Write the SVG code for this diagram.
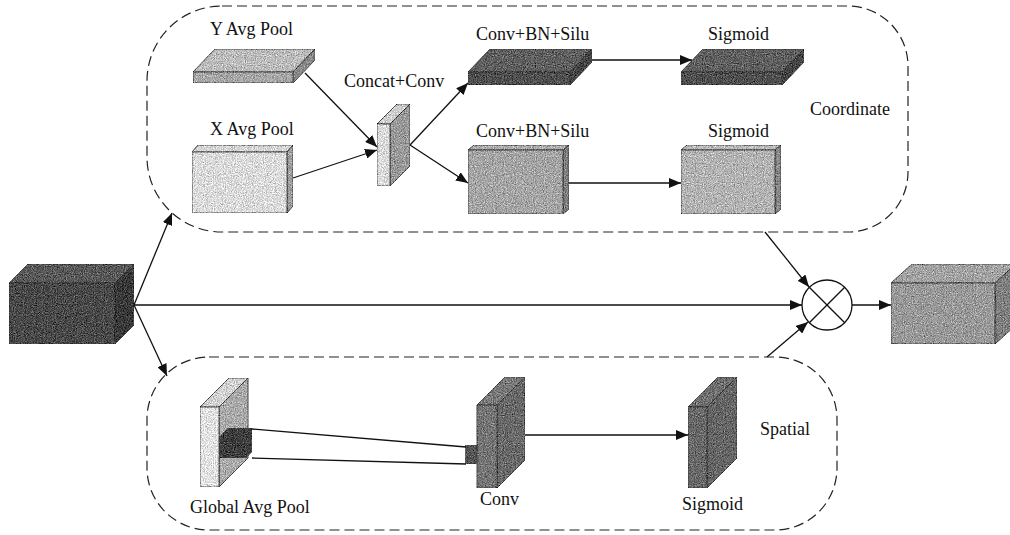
<svg xmlns="http://www.w3.org/2000/svg" width="1010" height="535" viewBox="0 0 1010 535">
<defs>
<style>
text{font-family:"Liberation Serif","Times New Roman",serif;font-size:18px;fill:#111}
.dash{fill:none;stroke:#222;stroke-width:1.2;stroke-dasharray:10 5}
.f{stroke:#333;stroke-width:0.8;stroke-linejoin:round}
.ln{fill:none;stroke:#111;stroke-width:1.3}
.arr{fill:none;stroke:#111;stroke-width:1.3;marker-end:url(#ah)}
.node{filter:url(#grain)}
</style>
<marker id="ah" markerUnits="userSpaceOnUse" markerWidth="12" markerHeight="10" refX="12" refY="5" orient="auto">
<path d="M0,0 L12,5 L0,10 Z" fill="#111"/>
</marker>
<filter id="grain" x="0" y="0" width="100%" height="100%" color-interpolation-filters="sRGB">
<feTurbulence type="fractalNoise" baseFrequency="0.9" numOctaves="2" seed="3" result="n"/>
<feColorMatrix in="n" type="matrix" values="0.33 0.33 0.33 0 0  0.33 0.33 0.33 0 0  0.33 0.33 0.33 0 0  0 0 0 0 1" result="g"/>
<feComposite in="SourceGraphic" in2="g" operator="arithmetic" k1="0" k2="1" k3="1.2" k4="-0.6" result="m"/>
<feComposite in="m" in2="SourceGraphic" operator="in"/>
</filter>
</defs>
<rect width="1010" height="535" fill="#fff"/>

<g id="coordinate-group">
<path class="dash" d="M222,6 H848 A60,60 0 0 1 908,66 V172 A60,60 0 0 1 848,232 H222 A75,75 0 0 1 147,157 V81 A75,75 0 0 1 222,6 Z"/>
<text x="810" y="115">Coordinate</text>
</g>
<g id="spatial-group">
<path class="dash" d="M209,357 H775 A62,62 0 0 1 837,419 V468 A62,62 0 0 1 775,530 H209 A62,62 0 0 1 147,468 V419 A62,62 0 0 1 209,357 Z"/>
<text x="760" y="435">Spatial</text>
</g>

<g id="input" class="node">
<polygon class="f" points="9,283 115,283 134,264 28,264" fill="#5a5a5a"/>
<polygon class="f" points="115,283 134,264 134,325 115,344" fill="#3a3a3a"/>
<rect class="f" x="9" y="283" width="106" height="61" fill="#4a4a4a"/>
</g>

<g id="y-avg-pool">
<g class="node">
<polygon class="f" points="193,72 293,72 315,49 215,49" fill="#bdbdbd"/>
<polygon class="f" points="293,72 315,49 315,60 293,83" fill="#8a8a8a"/>
<rect class="f" x="193" y="72" width="100" height="11" fill="#a8a8a8"/>
</g>
<text x="210" y="35">Y Avg Pool</text>
</g>

<g id="x-avg-pool">
<g class="node">
<polygon class="f" points="192,152 287,152 293,145 198,145" fill="#d6d6d6"/>
<polygon class="f" points="287,152 293,145 293,206 287,213" fill="#a0a0a0"/>
<rect class="f" x="192" y="152" width="95" height="61" fill="#dcdcdc"/>
</g>
<text x="210" y="135">X Avg Pool</text>
</g>

<g id="concat-conv">
<g class="node">
<polygon class="f" points="377,124 390,124 410,104 397,104" fill="#d0d0d0"/>
<polygon class="f" points="390,124 410,104 410,166 390,186" fill="#9a9a9a"/>
<rect class="f" x="377" y="124" width="13" height="62" fill="#dcdcdc"/>
</g>
<text x="344" y="87">Concat+Conv</text>
</g>

<g id="conv-bn-silu-top">
<g class="node">
<polygon class="f" points="468,72 570,72 592,49 490,49" fill="#606060"/>
<polygon class="f" points="570,72 592,49 592,62 570,85" fill="#454545"/>
<rect class="f" x="468" y="72" width="102" height="13" fill="#505050"/>
</g>
<text x="476" y="40">Conv+BN+Silu</text>
</g>

<g id="sigmoid-top">
<g class="node">
<polygon class="f" points="681,72 782,72 804,49 703,49" fill="#606060"/>
<polygon class="f" points="782,72 804,49 804,62 782,85" fill="#454545"/>
<rect class="f" x="681" y="72" width="101" height="13" fill="#505050"/>
</g>
<text x="708" y="40">Sigmoid</text>
</g>

<g id="conv-bn-silu-bottom">
<g class="node">
<polygon class="f" points="468,150 563,150 569,145 474,145" fill="#b0b0b0"/>
<polygon class="f" points="563,150 569,145 569,209 563,214" fill="#808080"/>
<rect class="f" x="468" y="150" width="95" height="64" fill="#a6a6a6"/>
</g>
<text x="476" y="137">Conv+BN+Silu</text>
</g>

<g id="sigmoid-bottom">
<g class="node">
<polygon class="f" points="681,150 775,150 781,145 687,145" fill="#bdbdbd"/>
<polygon class="f" points="775,150 781,145 781,209 775,214" fill="#8a8a8a"/>
<rect class="f" x="681" y="150" width="94" height="64" fill="#b4b4b4"/>
</g>
<text x="708" y="137">Sigmoid</text>
</g>

<g id="global-avg-pool">
<g class="node">
<polygon class="f" points="200,407 219,407 248,378 229,378" fill="#d4d4d4"/>
<polygon class="f" points="219,407 248,378 248,458 219,487" fill="#ababab"/>
<rect class="f" x="200" y="407" width="19" height="80" fill="#e4e4e4"/>
<polygon points="219,437 228,428 252,428 252,452 246,458 219,458" fill="#3e3e3e"/>
</g>
<text x="190" y="513">Global Avg Pool</text>
</g>

<g id="conv">
<g class="node">
<rect x="465" y="445" width="13" height="19" fill="#555"/>
<polygon class="f" points="477,405 497,405 525,377 505,377" fill="#7a7a7a"/>
<polygon class="f" points="497,405 525,377 525,460 497,488" fill="#6a6a6a"/>
<rect class="f" x="477" y="405" width="20" height="83" fill="#767676"/>
</g>
<text x="480" y="505">Conv</text>
</g>

<g id="sigmoid-spatial">
<g class="node">
<polygon class="f" points="688,407 707,407 737,377 718,377" fill="#707070"/>
<polygon class="f" points="707,407 737,377 737,458 707,488" fill="#666"/>
<rect class="f" x="688" y="407" width="19" height="81" fill="#6a6a6a"/>
</g>
<text x="682" y="510">Sigmoid</text>
</g>

<g id="multiply">
<circle cx="827" cy="305" r="25" fill="#fff" stroke="#111" stroke-width="1.3"/>
<line class="ln" x1="809.3" y1="287.3" x2="844.7" y2="322.7"/>
<line class="ln" x1="844.7" y1="287.3" x2="809.3" y2="322.7"/>
</g>

<g id="output" class="node">
<polygon class="f" points="891,283 995,283 1016,264 912,264" fill="#a4a4a4"/>
<polygon class="f" points="995,283 1016,264 1016,325 995,344" fill="#808080"/>
<rect class="f" x="891" y="283" width="104" height="61" fill="#9a9a9a"/>
</g>

<g id="connectors">
<line class="arr" x1="134" y1="305" x2="172" y2="213"/>
<line class="arr" x1="134" y1="305" x2="167" y2="376"/>
<line class="arr" x1="134" y1="305" x2="802" y2="305"/>
<line class="arr" x1="305" y1="73" x2="377" y2="147"/>
<line class="arr" x1="293" y1="178" x2="377" y2="150"/>
<line class="arr" x1="410" y1="145" x2="468" y2="83"/>
<line class="arr" x1="410" y1="145" x2="468" y2="183"/>
<line class="arr" x1="592" y1="60" x2="692" y2="60"/>
<line class="arr" x1="569" y1="183" x2="681" y2="183"/>
<line class="arr" x1="765" y1="232" x2="809" y2="287"/>
<line class="arr" x1="767" y1="357" x2="808" y2="322"/>
<line class="arr" x1="852" y1="305" x2="891" y2="305"/>
<line class="arr" x1="525" y1="435" x2="688" y2="435"/>
<line class="ln" x1="252" y1="429" x2="466" y2="447"/>
<line class="ln" x1="252" y1="458" x2="466" y2="464"/>
</g>
</svg>
